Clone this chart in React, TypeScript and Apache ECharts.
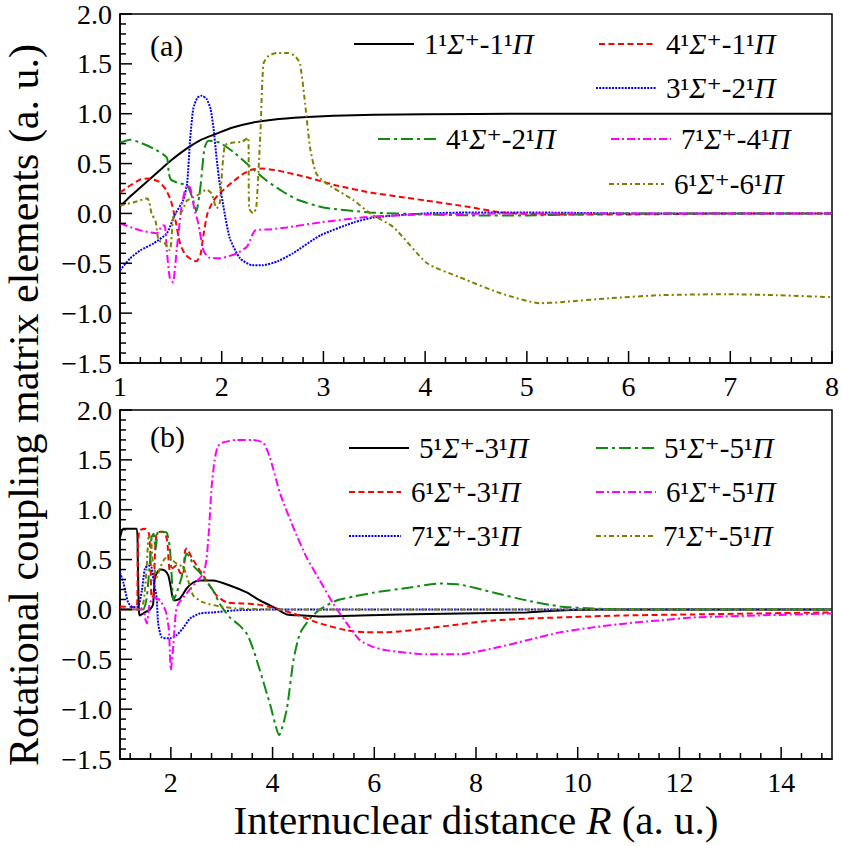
import React, { useEffect, useRef } from 'react';
import * as echarts from 'echarts';

const FONT = '"Liberation Serif", "DejaVu Serif", serif';

// ---------- Panel (a) ----------
const namesA = ['1¹Σ⁺-1¹Π', '4¹Σ⁺-1¹Π', '3¹Σ⁺-2¹Π', '4¹Σ⁺-2¹Π', '7¹Σ⁺-4¹Π', '6¹Σ⁺-6¹Π'];

const a_1S_1P = [[1.0,0.07],[1.1,0.17],[1.2,0.26],[1.3,0.35],[1.4,0.44],[1.5,0.53],[1.6,0.61],[1.7,0.68],[1.8,0.74],[1.95,0.8],[2.1,0.86],[2.3,0.91],[2.5,0.94],[2.8,0.965],[3.1,0.98],[3.5,0.99],[4.0,0.995],[5,1.0],[6,1.0],[7,1.0],[8,1.0]];
const a_4S_1P = [[1.0,0.21],[1.1,0.28],[1.2,0.34],[1.28,0.35],[1.38,0.32],[1.45,0.24],[1.5,0.13],[1.54,-0.04],[1.59,-0.3],[1.64,-0.41],[1.7,-0.46],[1.75,-0.48],[1.79,-0.42],[1.82,-0.22],[1.86,0.0],[1.92,0.13],[2.0,0.22],[2.1,0.31],[2.2,0.39],[2.3,0.44],[2.4,0.45],[2.55,0.43],[2.85,0.36],[3.13,0.28],[3.46,0.21],[3.8,0.16],[4.0,0.13],[4.4,0.07],[4.75,0.01],[5.2,-0.01],[6,-0.01],[7,0.0],[8,0.0]];
const a_3S_2P = [[1.0,-0.57],[1.1,-0.45],[1.2,-0.37],[1.33,-0.3],[1.46,-0.2],[1.54,-0.01],[1.62,0.13],[1.66,0.3],[1.69,0.75],[1.72,1.05],[1.76,1.16],[1.8,1.18],[1.85,1.15],[1.89,1.05],[1.92,0.85],[1.95,0.55],[1.98,0.3],[2.02,0.05],[2.08,-0.25],[2.18,-0.45],[2.3,-0.52],[2.4,-0.52],[2.55,-0.48],[2.7,-0.4],[2.97,-0.22],[3.3,-0.09],[3.5,-0.04],[4,0.0],[4.5,0.01],[5,0.01],[6,0.0],[8,0.0]];
const a_4S_2P = [[1.0,0.71],[1.1,0.74],[1.2,0.71],[1.33,0.65],[1.46,0.56],[1.48,0.4],[1.5,0.34],[1.56,0.31],[1.66,0.28],[1.72,0.13],[1.75,0.02],[1.79,0.26],[1.83,0.65],[1.87,0.73],[1.98,0.71],[2.11,0.62],[2.28,0.47],[2.44,0.33],[2.6,0.22],[2.74,0.14],[3.0,0.06],[3.46,0.01],[4,-0.01],[4.5,-0.02],[5,-0.02],[5.5,-0.01],[6,0.0],[8,0.0]];
const a_7S_4P = [[1.0,-0.1],[1.2,-0.17],[1.36,-0.2],[1.42,-0.12],[1.44,-0.12],[1.46,-0.37],[1.49,-0.65],[1.52,-0.69],[1.56,-0.34],[1.61,0.1],[1.66,0.28],[1.69,0.26],[1.73,0.05],[1.77,-0.1],[1.82,-0.37],[1.87,-0.44],[1.98,-0.45],[2.15,-0.4],[2.25,-0.33],[2.33,-0.17],[2.48,-0.16],[2.64,-0.14],[2.97,-0.09],[3.3,-0.05],[3.5,-0.03],[4,-0.01],[5,0.0],[8,0.0]];
const a_6S_6P = [[1.0,0.08],[1.13,0.11],[1.27,0.15],[1.29,0.1],[1.31,0.0],[1.35,-0.08],[1.38,-0.27],[1.44,-0.3],[1.49,-0.37],[1.52,-0.07],[1.54,0.0],[1.59,0.0],[1.66,0.13],[1.72,0.16],[1.79,0.2],[1.85,0.24],[1.9,0.2],[1.95,0.05],[1.98,0.1],[2.03,0.68],[2.11,0.71],[2.2,0.72],[2.26,0.76],[2.27,0.05],[2.31,0.0],[2.34,0.06],[2.38,0.8],[2.41,1.5],[2.46,1.58],[2.55,1.61],[2.65,1.61],[2.72,1.58],[2.77,1.5],[2.82,1.1],[2.87,0.65],[2.93,0.4],[3.03,0.3],[3.3,0.13],[3.46,0.0],[3.69,-0.14],[4.02,-0.5],[4.34,-0.64],[4.74,-0.8],[5.13,-0.9],[5.33,-0.89],[5.82,-0.85],[6.31,-0.82],[6.97,-0.81],[7.46,-0.82],[8.0,-0.84]];

// ---------- Panel (b) ----------
const namesB = ['5¹Σ⁺-3¹Π', '6¹Σ⁺-3¹Π', '7¹Σ⁺-3¹Π', '5¹Σ⁺-5¹Π', '6¹Σ⁺-5¹Π', '7¹Σ⁺-5¹Π'];

const b_5S_3P = [[1.0,0.72],[1.07,0.81],[1.33,0.81],[1.35,0.5],[1.37,0.0],[1.39,-0.06],[1.49,-0.03],[1.59,0.0],[1.65,0.05],[1.68,0.3],[1.72,0.36],[1.79,0.4],[1.88,0.39],[1.95,0.34],[2.0,0.22],[2.03,0.13],[2.08,0.09],[2.18,0.11],[2.31,0.21],[2.44,0.27],[2.57,0.29],[2.83,0.29],[3.16,0.24],[3.49,0.17],[3.75,0.09],[3.95,0.04],[4.1,0.0],[4.28,-0.05],[4.6,-0.06],[4.93,-0.07],[5.72,-0.06],[6.5,-0.05],[7.68,-0.04],[9.0,-0.03],[9.65,-0.01],[10.5,0.0],[15,0.0]];
const b_6S_3P = [[1.0,0.03],[1.33,0.02],[1.35,0.6],[1.38,0.79],[1.49,0.81],[1.57,0.76],[1.6,0.5],[1.62,0.12],[1.66,0.14],[1.69,0.6],[1.72,0.76],[1.79,0.78],[1.88,0.77],[1.93,0.68],[1.98,0.39],[2.05,0.42],[2.11,0.44],[2.18,0.37],[2.24,0.35],[2.28,0.59],[2.31,0.61],[2.41,0.52],[2.57,0.39],[2.7,0.29],[2.9,0.14],[3.1,0.07],[3.4,0.06],[3.7,0.05],[4.0,0.02],[4.4,-0.04],[4.93,-0.14],[5.46,-0.21],[5.85,-0.23],[6.24,-0.23],[7.03,-0.19],[8.34,-0.11],[9.65,-0.08],[10.96,-0.06],[12.27,-0.05],[13.58,-0.04],[15,-0.03]];
const b_7S_3P = [[1.0,0.37],[1.07,0.26],[1.16,0.07],[1.26,0.02],[1.36,0.03],[1.43,0.19],[1.49,0.41],[1.56,0.44],[1.62,0.42],[1.66,0.29],[1.72,0.12],[1.75,-0.14],[1.82,-0.28],[1.98,-0.29],[2.11,-0.26],[2.25,-0.18],[2.38,-0.09],[2.57,-0.04],[2.83,-0.03],[3.23,-0.01],[4,0.0],[15,0.0]];
const b_5S_5P = [[1.0,0.0],[1.45,0.0],[1.52,0.1],[1.56,0.3],[1.6,0.55],[1.62,0.72],[1.66,0.76],[1.7,0.6],[1.75,0.79],[1.82,0.78],[1.92,0.77],[1.98,0.62],[2.02,0.3],[2.05,0.09],[2.11,0.16],[2.21,0.32],[2.31,0.56],[2.38,0.52],[2.44,0.44],[2.57,0.37],[2.7,0.28],[2.83,0.19],[2.97,0.05],[3.16,-0.08],[3.35,-0.16],[3.5,-0.25],[3.62,-0.4],[3.75,-0.61],[3.95,-0.95],[4.13,-1.26],[4.28,-1.0],[4.41,-0.51],[4.54,-0.24],[4.74,-0.09],[4.93,0.0],[5.26,0.09],[5.6,0.13],[6.0,0.17],[6.7,0.22],[7.29,0.26],[7.68,0.25],[8.34,0.17],[9.0,0.09],[9.65,0.03],[10.3,0.01],[11,0.0],[15,0.0]];
const b_6S_5P = [[1.0,0.0],[1.45,0.0],[1.5,-0.1],[1.53,-0.14],[1.58,0.05],[1.66,0.12],[1.79,0.09],[1.9,-0.02],[1.96,-0.2],[2.0,-0.61],[2.05,-0.35],[2.1,-0.02],[2.15,0.06],[2.31,0.16],[2.47,0.26],[2.64,0.36],[2.7,0.5],[2.75,0.8],[2.8,1.22],[2.86,1.5],[2.92,1.63],[3.0,1.67],[3.29,1.7],[3.62,1.7],[3.82,1.67],[3.95,1.52],[4.15,1.16],[4.41,0.82],[4.67,0.52],[4.93,0.29],[5.19,0.06],[5.46,-0.14],[5.72,-0.31],[6.0,-0.38],[6.24,-0.41],[7.03,-0.45],[7.68,-0.45],[8.34,-0.39],[9.0,-0.31],[9.65,-0.23],[10.3,-0.18],[10.96,-0.14],[11.6,-0.11],[12.27,-0.08],[12.9,-0.07],[13.58,-0.06],[15,-0.04]];
const b_7S_5P = [[1.0,0.0],[1.4,0.0],[1.47,0.1],[1.52,0.39],[1.56,0.72],[1.6,0.74],[1.64,0.5],[1.68,0.4],[1.72,0.32],[1.79,0.42],[1.88,0.51],[1.98,0.52],[2.08,0.47],[2.25,0.42],[2.34,0.29],[2.44,0.14],[2.64,0.07],[2.97,0.03],[3.29,0.01],[4,0.0],[15,0.0]];

// ---------- Ticks ----------
const X_MIN = 1;
const Y_MIN = -1.5;
const yMajor = [-1.5, -1.0, -0.5, 0.0, 0.5, 1.0, 1.5, 2.0];
const yMinor: number[] = [];
for (let i = -14; i <= 19; i++) if (i % 5 !== 0) yMinor.push(i / 10);
const topXMajor = [1, 2, 3, 4, 5, 6, 7, 8];
const topXMinor: number[] = [];
for (let i = 6; i <= 39; i++) if (i % 5 !== 0) topXMinor.push(i / 5);
const bottomXLabels = [2, 4, 6, 8, 10, 12, 14];
const bottomXMinor: number[] = [];
for (let i = 3; i <= 37; i++) if (i % 5 !== 0) bottomXMinor.push(Math.round(i * 4) / 10);

const yTitle = 'Rotational coupling matrix elements (a. u.)';
const xTitle = 'Internuclear distance {i|R} (a. u.)';

const COLORS: Record<string, string> = { black: '#000000', red: '#ff0000', blue: '#0000ff', green: '#108a10', magenta: '#ff00ff', olive: '#808000' };
const DASH: Record<string, any> = {
  black: 'solid',
  red: [6, 3.5],
  blue: [2, 1.2],
  green: [12, 4, 3, 4],
  magenta: [8, 3, 2, 3],
  olive: [5, 3, 2, 3],
};

const richName = (n: string) => n.replace(/([ΣΠ])/g, '{i|$1}');

export default function App() {
  const ref = useRef<HTMLDivElement>(null);
  useEffect(() => {
    if (!ref.current) return;
    const chart = echarts.init(ref.current, null, { renderer: 'svg' });

    const mk = (name: string, data: number[][], key: string, gi: number) => ({
      name,
      type: 'line',
      xAxisIndex: gi,
      yAxisIndex: gi,
      data,
      symbol: 'none',
      smooth: 0.2,
      lineStyle: { color: COLORS[key], width: 2, type: DASH[key] },
      itemStyle: { color: COLORS[key] },
    });

    // tick marks: one custom series per (panel, direction, length); two data dims only
    const tickSeries = (gi: number, orient: 'x' | 'y', values: number[], len: number) => ({
      type: 'custom',
      xAxisIndex: gi,
      yAxisIndex: gi,
      silent: true,
      clip: false,
      z: 10,
      data: values.map((v) => (orient === 'x' ? [v, Y_MIN] : [X_MIN, v])),
      renderItem: (_p: any, api: any) => {
        const pt = api.coord([api.value(0), api.value(1)]);
        const w = 1.5;
        const shape = orient === 'x'
          ? { x: pt[0] - w / 2, y: pt[1] - len, width: w, height: len }
          : { x: pt[0], y: pt[1] - w / 2, width: len, height: w };
        return { type: 'rect', shape, style: { fill: '#000' } };
      },
    });

    const series: any[] = [
      mk(namesA[0], a_1S_1P, 'black', 0),
      mk(namesA[1], a_4S_1P, 'red', 0),
      mk(namesA[2], a_3S_2P, 'blue', 0),
      mk(namesA[3], a_4S_2P, 'green', 0),
      mk(namesA[4], a_7S_4P, 'magenta', 0),
      mk(namesA[5], a_6S_6P, 'olive', 0),
      mk(namesB[0], b_5S_3P, 'black', 1),
      mk(namesB[1], b_6S_3P, 'red', 1),
      mk(namesB[2], b_7S_3P, 'blue', 1),
      mk(namesB[3], b_5S_5P, 'green', 1),
      mk(namesB[4], b_6S_5P, 'magenta', 1),
      mk(namesB[5], b_7S_5P, 'olive', 1),
      tickSeries(0, 'x', topXMajor, 12),
      tickSeries(0, 'x', topXMinor, 6),
      tickSeries(0, 'y', yMajor, 12),
      tickSeries(0, 'y', yMinor, 6),
      tickSeries(1, 'x', bottomXLabels, 12),
      tickSeries(1, 'x', bottomXMinor, 6),
      tickSeries(1, 'y', yMajor, 12),
      tickSeries(1, 'y', yMinor, 6),
    ];

    const legendFont = 29;
    const mkLegend = (name: string, left: number, cy: number, w: number) => ({
      data: [name],
      left,
      top: cy - 16,
      padding: 0,
      itemWidth: w,
      itemHeight: 14,
      selectedMode: false,
      itemStyle: { opacity: 0 },
      formatter: (n: string) => richName(n),
      textStyle: {
        fontFamily: FONT,
        fontSize: legendFont,
        color: '#000',
        lineHeight: 32,
        padding: [0, 0, 0, 5],
        rich: { i: { fontFamily: FONT, fontSize: legendFont, fontStyle: 'italic', color: '#000', lineHeight: 32 } },
      },
    });

    const legends = [
      mkLegend(namesA[0], 353, 44, 60),
      mkLegend(namesA[1], 598, 44, 57),
      mkLegend(namesA[2], 595, 88, 60),
      mkLegend(namesA[3], 377, 139, 58),
      mkLegend(namesA[4], 610, 139, 60),
      mkLegend(namesA[5], 608, 184, 55),
      mkLegend(namesB[0], 348, 448, 60),
      mkLegend(namesB[3], 595, 448, 58),
      mkLegend(namesB[1], 348, 492, 52),
      mkLegend(namesB[4], 595, 492, 60),
      mkLegend(namesB[2], 348, 536, 52),
      mkLegend(namesB[5], 595, 536, 57),
    ];

    const mkAxisLine = () => ({ show: true, onZero: false, lineStyle: { color: '#000', width: 1.5 } });
    const labelStyle = () => ({ color: '#000', fontFamily: FONT, fontSize: 28 });
    const yFmt = (v: number) => (v < 0 ? '−' + Math.abs(v).toFixed(1) : v.toFixed(1));

    const yAxisBase = (gi: number) => ({
      gridIndex: gi,
      type: 'value',
      min: -1.5,
      max: 2.0,
      interval: 0.5,
      axisLine: mkAxisLine(),
      axisTick: { show: false },
      minorTick: { show: false },
      axisLabel: { ...labelStyle(), margin: 8, formatter: yFmt, showMinLabel: true, showMaxLabel: true },
      splitLine: { show: false },
    });

    const option: any = {
      animation: false,
      backgroundColor: '#fff',
      grid: [
        { left: 120, top: 14, width: 712, height: 349, show: true, borderColor: '#000', borderWidth: 1.5 },
        { left: 120, top: 410, width: 712, height: 349, show: true, borderColor: '#000', borderWidth: 1.5 },
      ],
      title: [
        { text: '(a)', left: 150, top: 30, padding: 0, textStyle: { fontFamily: FONT, fontSize: 30, fontWeight: 'normal', color: '#000' } },
        { text: '(b)', left: 150, top: 421, padding: 0, textStyle: { fontFamily: FONT, fontSize: 30, fontWeight: 'normal', color: '#000' } },
      ],
      legend: legends,
      xAxis: [
        {
          gridIndex: 0,
          type: 'value',
          min: 1,
          max: 8,
          interval: 1,
          axisLine: mkAxisLine(),
          axisTick: { show: false },
          minorTick: { show: false },
          axisLabel: { ...labelStyle(), margin: 9, showMinLabel: true, showMaxLabel: true },
          splitLine: { show: false },
        },
        {
          gridIndex: 1,
          type: 'value',
          min: 1,
          max: 15,
          interval: 1,
          axisLine: mkAxisLine(),
          axisTick: { show: false },
          axisLabel: { ...labelStyle(), margin: 9, customValues: bottomXLabels },
          splitLine: { show: false },
          name: xTitle,
          nameLocation: 'middle',
          nameGap: 40,
          nameTextStyle: {
            fontFamily: FONT,
            fontSize: 41,
            color: '#000',
            rich: { i: { fontFamily: FONT, fontSize: 41, fontStyle: 'italic', color: '#000' } },
          },
        },
      ],
      yAxis: [yAxisBase(0), yAxisBase(1)],
      graphic: [
        {
          type: 'text',
          x: 24,
          y: 405,
          rotation: Math.PI / 2,
          style: {
            text: yTitle,
            font: `42px ${FONT}`,
            fill: '#000',
            align: 'center',
            verticalAlign: 'middle',
          },
        },
      ],
      series,
    };

    chart.setOption(option);
    return () => chart.dispose();
  }, []);

  return <div ref={ref} style={{ position: 'fixed', left: 0, top: 0, width: 842, height: 846, background: '#fff' }} />;
}
